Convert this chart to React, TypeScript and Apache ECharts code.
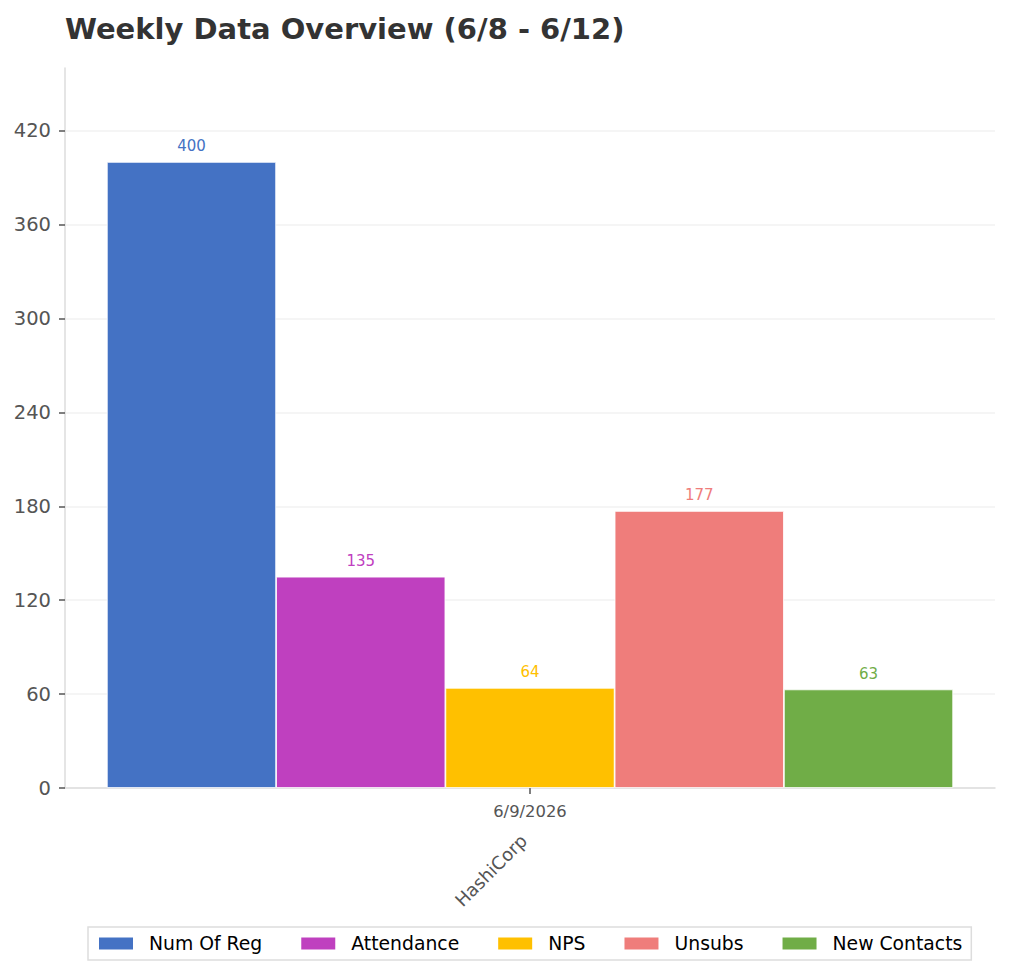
import React, { useEffect, useRef } from "react";
import * as echarts from "echarts";

const categories = ["6/9/2026"];
const groupLabels = ["HashiCorp"];
const seriesNames = ["Num Of Reg", "Attendance", "NPS", "Unsubs", "New Contacts"];
const numOfReg = [400];
const attendance = [135];
const nps = [64];
const unsubs = [177];
const newContacts = [63];
const seriesColors = ["#4472C4", "#BF40BF", "#FFC000", "#EF7D7B", "#70AD47"];
const yTicks = [0, 60, 120, 180, 240, 300, 360, 420];

const FONT = "DejaVu Sans";

export default function App() {
  const ref = useRef<HTMLDivElement>(null);
  useEffect(() => {
    document.body.style.margin = "0";
    if (!ref.current) return;
    const chart = echarts.init(ref.current, undefined, { renderer: "svg" });
    const values = [numOfReg, attendance, nps, unsubs, newContacts];
    chart.setOption({
      animation: false,
      backgroundColor: "#ffffff",
      textStyle: { fontFamily: FONT },
      title: {
        text: "Weekly Data Overview (6/8 - 6/12)",
        left: 60,
        top: 9,
        textStyle: { fontFamily: FONT, fontSize: 29, fontWeight: "bold", color: "#333333" },
      },
      legend: {
        left: 88,
        top: 927,
        padding: [7, 9, 7, 9],
        borderColor: "#dddddd",
        borderWidth: 1.5,
        itemWidth: 36,
        itemHeight: 14,
        itemGap: 37,
        icon: "rect",
        textStyle: { fontFamily: FONT, fontSize: 18.8, color: "#000000", padding: [0, 0, 0, 10] },
        data: seriesNames,
      },
      grid: { left: 65, right: 15, top: 68, bottom: 188, containLabel: false },
      xAxis: [
        {
          type: "category",
          data: categories,
          position: "bottom",
          axisLine: { show: true, lineStyle: { color: "#dddddd", width: 1.5 } },
          axisTick: { show: true, alignWithLabel: true, length: 6, lineStyle: { color: "#555555", width: 1.5 } },
          axisLabel: { fontFamily: FONT, fontSize: 16.4, color: "#555555", margin: 15 },
          splitLine: { show: false },
        },
        {
          type: "category",
          data: groupLabels,
          position: "bottom",
          offset: 48,
          axisLine: { show: false },
          axisTick: { show: false },
          axisLabel: {
            fontFamily: FONT,
            fontSize: 18,
            color: "#555555",
            rotate: 45,
            margin: 8,
            verticalAlign: "bottom",
          },
          splitLine: { show: false },
        },
      ],
      yAxis: {
        type: "value",
        min: 0,
        max: 460,
        interval: 60,
        axisLine: { show: true, lineStyle: { color: "#dddddd", width: 1.5 } },
        axisTick: { show: true, length: 6, lineStyle: { color: "#555555", width: 1.5 }, customValues: yTicks },
        axisLabel: { fontFamily: FONT, fontSize: 19.5, color: "#555555", margin: 14, customValues: yTicks },
        splitLine: { show: true, lineStyle: { color: "#f2f2f2", width: 1.5 } },
      },
      series: seriesNames.map((name, i) => ({
        name,
        type: "bar",
        xAxisIndex: 0,
        data: values[i],
        barGap: "0%",
        barCategoryGap: "9%",
        itemStyle: { color: seriesColors[i], borderColor: "#ffffff", borderWidth: 0.8 },
        label: {
          show: true,
          position: "top",
          distance: 8,
          color: seriesColors[i],
          fontFamily: FONT,
          fontSize: 15,
        },
      })),
    });
    return () => chart.dispose();
  }, []);
  return <div ref={ref} style={{ width: 1010, height: 976 }} />;
}
